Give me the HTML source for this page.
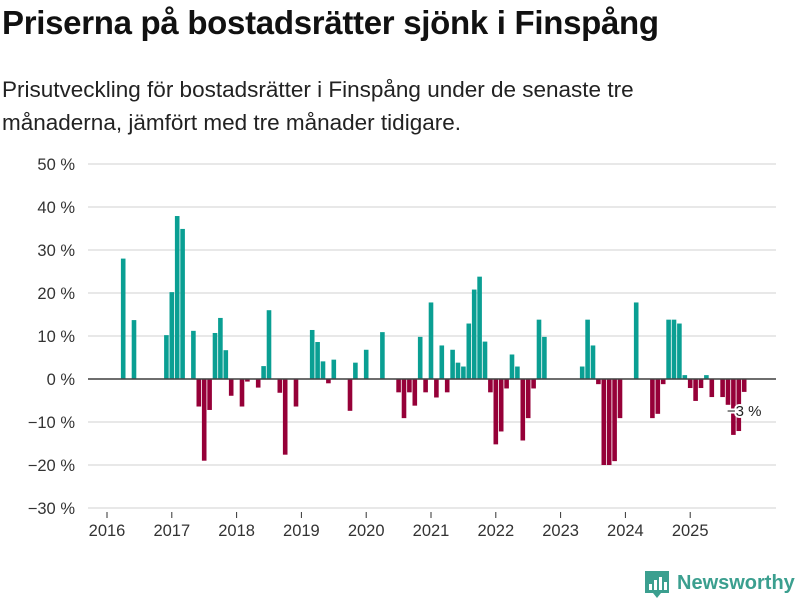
<!DOCTYPE html>
<html><head><meta charset="utf-8"><style>
body{margin:0;background:#fff;font-family:"Liberation Sans","DejaVu Sans",sans-serif;}
#wrap{position:relative;width:800px;height:600px;overflow:hidden;}
h1{position:absolute;left:2px;top:4px;margin:0;font-size:33px;font-weight:bold;color:#111;letter-spacing:-0.3px;}
p{position:absolute;left:2px;top:73px;margin:0;font-size:22.5px;line-height:33px;color:#222;width:700px;}
</style></head><body>
<div id="wrap">
<h1>Priserna på bostadsrätter sjönk i Finspång</h1>
<p>Prisutveckling för bostadsrätter i Finspång under de senaste tre månaderna, jämfört med tre månader tidigare.</p>
<svg id="chart" width="800" height="600" style="position:absolute;left:0;top:0"></svg>
</div>
<script>
const startYear = 2016;
const yTicks = [50,40,30,20,10,0,-10,-20,-30];
const yearLabels = ["2016","2017","2018","2019","2020","2021","2022","2023","2024","2025"];
const monthIndex = [3,5,11,12,13,14,16,17,18,19,20,21,22,23,25,26,28,29,30,32,33,35,38,39,40,41,42,45,46,48,51,54,55,56,57,58,59,60,61,62,63,64,65,66,67,68,69,70,71,72,73,74,75,76,77,78,79,80,81,88,89,90,91,92,93,94,95,98,101,102,103,104,105,106,107,108,109,110,111,112,114,115,116,117,118];
const values = [28,13.7,10.2,20.2,37.9,34.9,11.2,-6.4,-19,-7.2,10.7,14.2,6.7,-3.9,-6.4,-0.6,-2,3,16,-3.2,-17.6,-6.4,11.4,8.6,4.1,-1,4.5,-7.4,3.8,6.8,10.9,-3.1,-9.1,-3.1,-6.2,9.8,-3.1,17.8,-4.3,7.8,-3.1,6.8,3.8,2.9,12.9,20.8,23.8,8.7,-3.1,-15.2,-12.2,-2.2,5.7,2.9,-14.3,-9.1,-2.2,13.8,9.8,2.9,13.8,7.8,-1.2,-20,-20,-19.1,-9.1,17.8,-9.1,-8.1,-1.2,13.8,13.8,12.9,0.9,-2.1,-5.1,-2.1,0.9,-4.2,-4.2,-6,-13,-12.1,-3];
const lastLabel = "−3 %";

const svg = document.getElementById('chart');
const NS = 'http://www.w3.org/2000/svg';
const x0 = 107, perMonth = 5.4, zeroY = 379, perPct = 4.3;
const xScale = m => x0 + m * perMonth;
const yScale = v => zeroY - v * perPct;
function mk(tag, attrs){const e=document.createElementNS(NS,tag);for(const k in attrs)e.setAttribute(k,attrs[k]);svg.appendChild(e);return e;}

yTicks.forEach(t=>{
  const g = mk('line',{x1:88,x2:776,y1:yScale(t),y2:yScale(t),stroke:'#e0e0e0','stroke-width':1.5});
  
  
  const tx = mk('text',{x:75,y:yScale(t)+6,'text-anchor':'end','font-size':16.5,fill:'#333'});
  tx.textContent = (t<0?'−'+(-t):t)+' %';
  
  
});
yearLabels.forEach((y,i)=>{
  const x = xScale(i*12);
  const tk = mk('line',{x1:x,x2:x,y1:512,y2:518,stroke:'#333','stroke-width':1});
  
  
  const tx = mk('text',{x:x,y:536,'text-anchor':'middle','font-size':16.5,fill:'#333'});
  tx.textContent = y;
  
  
});
monthIndex.forEach((m,i)=>{
  const v = values[i];
  const x = xScale(m) - 2.3;
  const y = v>=0 ? yScale(v) : zeroY;
  const r = mk('rect',{x:x,y:y,width:4.6,height:Math.abs(v*perPct),fill:v>=0?'#0a9f93':'#960038'});
  
  
});
const zl = mk('line',{x1:88,x2:776,y1:zeroY,y2:zeroY,stroke:'#444','stroke-width':1.5});


const li = monthIndex.length-1;
const lb = mk('text',{x:xScale(monthIndex[li])+0,y:yScale(values[li])+24,'text-anchor':'middle','font-size':15,fill:'#222',stroke:'#fff','stroke-width':4,'paint-order':'stroke'});
lb.textContent = lastLabel;



const lg = mk('g',{});


const bx = document.createElementNS(NS,'path');
bx.setAttribute('d','M645 571 h24 v22 h-8 l-4 5 l-4 -5 h-8 z');
bx.setAttribute('fill','#3b9f8f');
lg.appendChild(bx);
[[649,584,3,6],[654,580,3,10],[659,577,3,13],[664,582,3,8]].forEach(a=>{
  const r=document.createElementNS(NS,'rect');
  r.setAttribute('x',a[0]);r.setAttribute('y',a[1]);r.setAttribute('width',a[2]);r.setAttribute('height',a[3]);r.setAttribute('fill','#fff');
  lg.appendChild(r);
});
const lt = document.createElementNS(NS,'text');
lt.setAttribute('x',677);lt.setAttribute('y',589);lt.setAttribute('font-size',20);lt.setAttribute('font-weight','bold');lt.setAttribute('fill','#3b9f8f');
lt.textContent='Newsworthy';
lg.appendChild(lt);
</script>
</body></html>
